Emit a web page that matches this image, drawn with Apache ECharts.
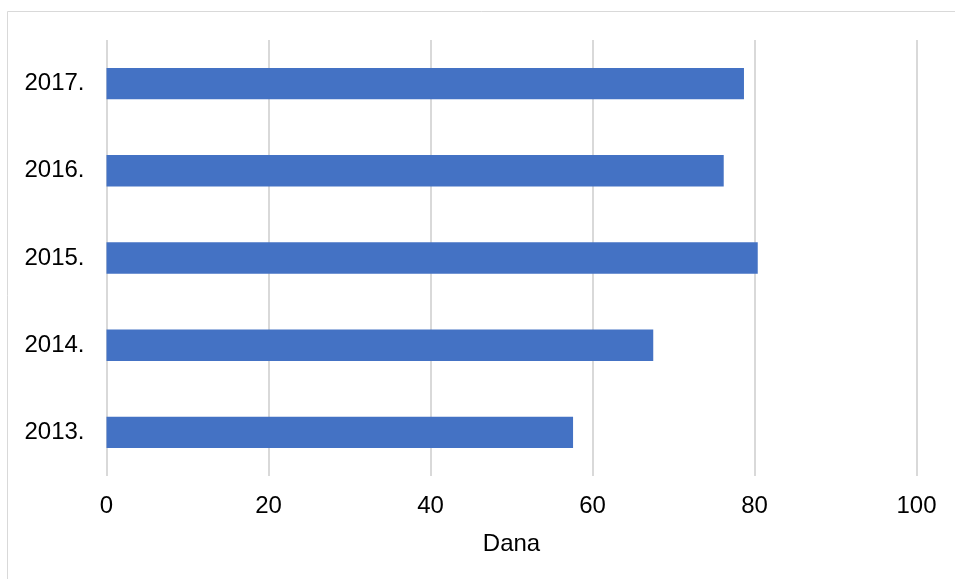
<!DOCTYPE html>
<html><head><meta charset="utf-8">
<script src="https://cdn.jsdelivr.net/npm/echarts@6/dist/echarts.min.js"></script>
<style>html,body{margin:0;padding:0;background:#fff}#c{width:955px;height:579px}</style>
</head><body><div id="c"></div>
<script>
const categories = ['2013.', '2014.', '2015.', '2016.', '2017.'];
const values = [57.6, 67.5, 80.4, 76.2, 78.7];
const xTicks = [0, 20, 40, 60, 80, 100];
const xName = 'Dana';

const chart = echarts.init(document.getElementById('c'), null, {renderer: 'canvas'});
chart.setOption({
  animation: false,
  backgroundColor: '#fff',
  graphic: [{type: 'rect', shape: {x: 7.5, y: 11.5, width: 1000, height: 700}, style: {fill: 'none', stroke: '#d9d9d9', lineWidth: 1}, silent: true}],
  grid: {left: 106.5, right: 38.5, top: 40, bottom: 103, containLabel: false},
  xAxis: {
    type: 'value', min: xTicks[0], max: xTicks[xTicks.length - 1], interval: 20,
    name: xName, nameLocation: 'middle', nameGap: 56,
    nameTextStyle: {fontFamily: 'Liberation Sans', fontSize: 24, color: '#000'},
    axisLine: {show: false}, axisTick: {show: false},
    axisLabel: {fontFamily: 'Liberation Sans', fontSize: 24, color: '#000', margin: 18},
    splitLine: {show: true, lineStyle: {color: '#d9d9d9', width: 2}}
  },
  yAxis: {
    type: 'category', data: categories,
    axisLine: {show: false}, axisTick: {show: false},
    axisLabel: {fontFamily: 'Liberation Sans', fontSize: 24, color: '#000', margin: 22},
    splitLine: {show: false}
  },
  series: [{
    type: 'bar', data: values, barWidth: '36%',
    itemStyle: {color: '#4472C4'}
  }]
});
</script></body></html>
